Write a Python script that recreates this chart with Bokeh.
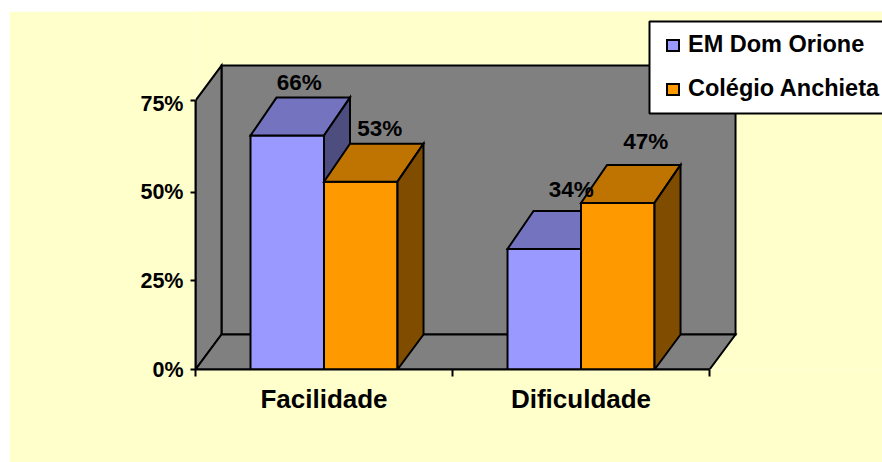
from bokeh.embed import file_html
from bokeh.resources import INLINE
from bokeh.plotting import figure
from bokeh.models import BoxAnnotation, FixedTicker, Legend, LegendItem, Range1d
from bokeh.core.properties import value

# Chart content
categories = ["Facilidade", "Dificuldade"]
series_names = ["EM Dom Orione", "Colégio Anchieta"]
em_dom_orione = [66, 34]
colegio_anchieta = [53, 47]
y_ticks = [0, 25, 50, 75]
y_tick_labels = ["0%", "25%", "50%", "75%"]

# Colours: front, top and side faces of each series
faces = [("#9999FF", "#7373BF", "#4D4D80"), ("#FF9900", "#BF7300", "#804D00")]
WALL = "#808080"
PAPER = "#FFFFCC"

# Scale and pseudo-3D geometry, in data units
X_END, Y_END = 2.673, 101.0
PX_X, PX_Y = 257.0, 3.545
DX, DY = 26 / PX_X, 35 / PX_Y
BAR_DY = 38 / PX_Y
AXIS_TOP = 269 / PX_Y
BAR_W = 73.5 / PX_X
FONT = value("Liberation Sans")

p = figure(width=873, height=451, margin=(11, 0, 0, 9), output_backend="svg",
           toolbar_location=None, x_range=Range1d(0, X_END), y_range=Range1d(0, Y_END),
           min_border_left=186, min_border_right=0, min_border_top=0, min_border_bottom=93,
           background_fill_color=PAPER, border_fill_color=PAPER, outline_line_color=None)
p.grid.visible = False

# Floor and walls of the box
box_line = dict(line_color="black", line_width=2, line_join="miter")
p.patch([DX, 2 + DX, 2 + DX, DX], [DY, DY, AXIS_TOP + DY, AXIS_TOP + DY], fill_color=WALL, **box_line)
p.patch([0, DX, DX, 0], [0, DY, AXIS_TOP + DY, AXIS_TOP], fill_color=WALL, **box_line)
p.patch([0, 2, 2 + DX, DX], [0, 0, DY, DY], fill_color=WALL, **box_line)

# Bars, back to front, left to right
front_renderers = [None, None]
for g in range(len(categories)):
    for s, vals in enumerate([em_dom_orione, colegio_anchieta]):
        left = g + 0.5 + (s - 1) * BAR_W
        right = left + BAR_W
        top = vals[g]
        front, upper, side = faces[s]
        r = p.quad(left=[left], right=[right], bottom=[0], top=[top], fill_color=front, **box_line)
        p.patch([left, right, right + DX, left + DX], [top, top, top + BAR_DY, top + BAR_DY], fill_color=upper, **box_line)
        p.patch([right, right + DX, right + DX, right], [0, DY, top + BAR_DY, top], fill_color=side, **box_line)
        front_renderers[s] = front_renderers[s] or r

# Value labels above the bars
label_shift = {(0, 0): (12, 53), (0, 1): (19, 53.5), (1, 0): (27, 59), (1, 1): (28, 61)}
for g in range(len(categories)):
    for s, vals in enumerate([em_dom_orione, colegio_anchieta]):
        cx = g + 0.5 + (s - 0.5) * BAR_W
        sx, sy = label_shift[(g, s)]
        p.text([cx + sx / PX_X], [vals[g] + sy / PX_Y], text=[f"{vals[g]}%"], text_font=FONT,
               text_font_style="bold", text_font_size="22.5px", text_color="black",
               text_align="center", text_baseline="middle")

# Value axis
ya = p.yaxis[0]
ya.ticker = FixedTicker(ticks=y_ticks, minor_ticks=[0, 25, 50, AXIS_TOP])
ya.major_label_overrides = {t: l for t, l in zip(y_ticks, y_tick_labels)}
ya.bounds = (0, AXIS_TOP)
ya.major_tick_in = ya.major_tick_out = 0
ya.minor_tick_in = 0
ya.minor_tick_out = 5
ya.major_label_standoff = 7
ya.axis_line_width = ya.minor_tick_line_width = 2
ya.major_label_text_font = "Liberation Sans"
ya.major_label_text_font_style = "bold"
ya.major_label_text_font_size = "21.5px"
ya.major_label_text_color = "black"

# Category axis, with ticks on the group boundaries
xa = p.xaxis[0]
centres = [i + 0.5 for i in range(len(categories))]
xa.ticker = FixedTicker(ticks=centres, minor_ticks=[0, 1, 2])
xa.major_label_overrides = {c: l for c, l in zip(centres, categories)}
xa.bounds = (0, 2)
xa.major_tick_in = xa.major_tick_out = 0
xa.minor_tick_in = 0
xa.minor_tick_out = 7
xa.major_label_standoff = 7
xa.axis_line_width = xa.minor_tick_line_width = 2
xa.major_label_text_font = "Liberation Sans"
xa.major_label_text_font_style = "bold"
xa.major_label_text_font_size = "26px"
xa.major_label_text_color = "black"

# Legend panel running off the right edge, with the legend itself on top of it
panel = BoxAnnotation(left=454, right=700, top=348, bottom=256,
                      left_units="screen", right_units="screen", top_units="screen", bottom_units="screen",
                      fill_color="white", fill_alpha=1.0, line_color="black", line_width=2, line_alpha=1.0)
p.add_layout(panel)
legend = Legend(items=[LegendItem(label=n, renderers=[r]) for n, r in zip(series_names, front_renderers)],
                location=(470, 267), orientation="vertical", padding=0, spacing=17, margin=0,
                glyph_width=15, glyph_height=14, label_standoff=8, label_height=16,
                label_text_font="Liberation Sans", label_text_font_style="bold",
                label_text_font_size="23.5px", label_text_color="black",
                border_line_color=None, background_fill_alpha=0.0)
p.add_layout(legend)

open("out.html", "w").write(file_html(p, INLINE))
